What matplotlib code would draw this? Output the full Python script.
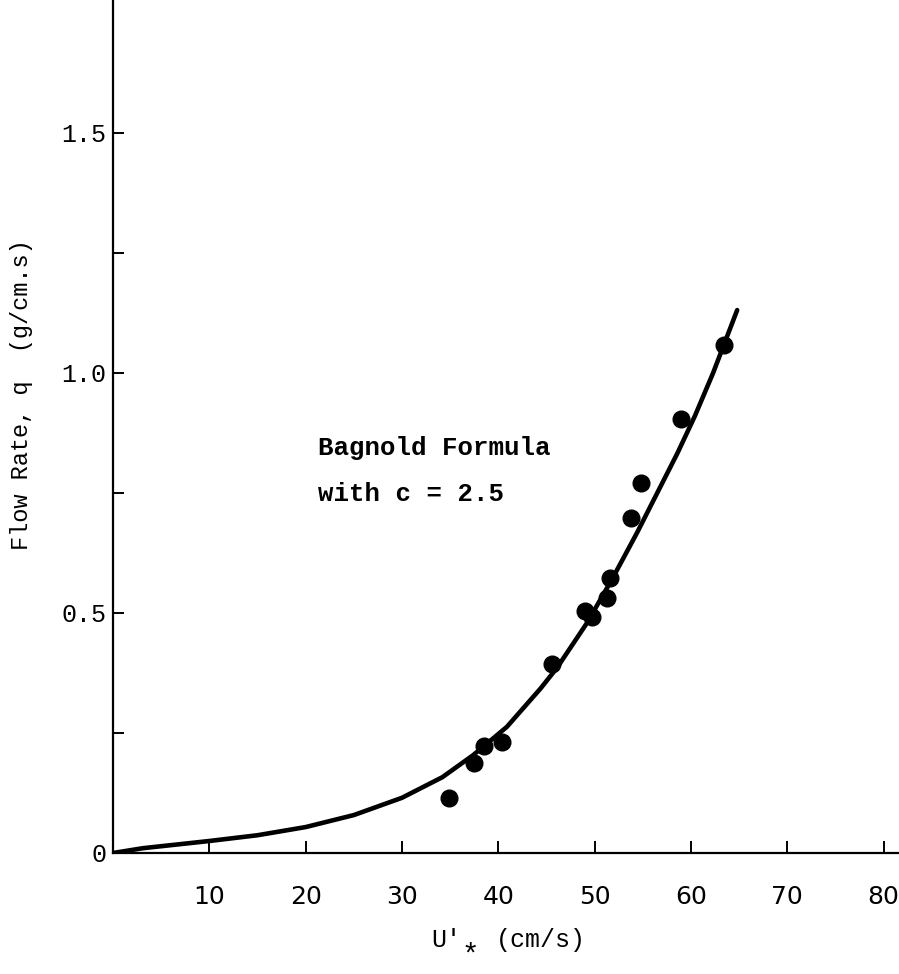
import matplotlib
matplotlib.use("Agg")
import matplotlib.pyplot as plt
from matplotlib import font_manager

# ── Dados ────────────────────────────────────────────────────────────────────
U_PTS = [34.9, 37.5, 38.5, 40.4, 45.6, 49.0, 49.7, 51.3, 51.6, 53.8, 54.8, 59.0, 63.4]
Q_PTS = [0.115, 0.188, 0.223, 0.232, 0.394, 0.504, 0.492, 0.531, 0.573, 0.698, 0.771, 0.904, 1.058]

# curva de Bagnold (c = 2.5), lida ponto a ponto
U_CURVE = [0, 3.1, 10, 15, 20, 25, 30, 34.2, 37.4, 40.9, 44.4, 46.1, 49.2, 51.8,
           54.4, 56.5, 58.6, 60.4, 62.3, 64.8]
Q_CURVE = [0.0, 0.010, 0.025, 0.037, 0.054, 0.079, 0.115, 0.158, 0.204, 0.263,
           0.343, 0.386, 0.479, 0.570, 0.667, 0.750, 0.833, 0.910, 1.000, 1.131]

X_TICKS = [10, 20, 30, 40, 50, 60, 70, 80]
Y_TICKS = [0, 0.5, 1.0, 1.5]
Y_MINOR = [0.25, 0.75, 1.25]

MONO = "Liberation Mono"
names = {f.name for f in font_manager.fontManager.ttflist}
NARROW = "Liberation Sans Narrow" if "Liberation Sans Narrow" in names else "DejaVu Sans"

plt.rcParams["font.family"] = [MONO, "DejaVu Sans"]

W, H = 899, 974
fig = plt.figure(figsize=(W / 100, H / 100), dpi=100)
ax = fig.add_axes([113 / W, 121 / H, 1 - 113 / W, 853 / H])

ax.plot(U_CURVE, Q_CURVE, color="black", lw=3.3, solid_capstyle="round",
        solid_joinstyle="round")
ax.plot(U_PTS, Q_PTS, "o", color="black", ms=12)

ax.set_xlim(0, 81.6)
ax.set_ylim(0, 1.777)

for s in ("top", "right"):
    ax.spines[s].set_visible(False)
for s in ("left", "bottom"):
    ax.spines[s].set_linewidth(1.6)

ax.set_xticks(X_TICKS)
ax.set_xticklabels([str(v) for v in X_TICKS], fontsize=18, family=NARROW)
ax.set_yticks(Y_TICKS)
ax.set_yticklabels(["0", "0.5", "1.0", "1.5"], fontsize=18)
ax.set_yticks(Y_MINOR, minor=True)
ax.tick_params(axis="x", direction="in", length=9, width=1.4, pad=23)
ax.tick_params(axis="y", direction="in", length=8, width=1.4, pad=5)
ax.tick_params(axis="y", which="minor", direction="in", length=8, width=1.4)

fig.text(22 / W, 1 - 395 / H, "Flow Rate, q  (g/cm.s)", rotation=90,
         ha="center", va="center", fontsize=17)

# rótulo do eixo x: U' com asterisco subscrito
fig.text(446 / W, 1 - 940 / H, "U'", ha="center", va="center", fontsize=18)
fig.text(470 / W, 1 - 956 / H, "*", ha="center", va="center", fontsize=21)
fig.text(496 / W, 1 - 940 / H, "(cm/s)", ha="left", va="center", fontsize=18)

ax.text(21.3, 0.83, "Bagnold Formula", fontsize=18.5, fontweight="bold", ha="left",
        va="baseline")
ax.text(21.3, 0.733, "with c = 2.5", fontsize=18.5, fontweight="bold", ha="left",
        va="baseline")

fig.savefig("out.png", dpi=100, facecolor="white")
